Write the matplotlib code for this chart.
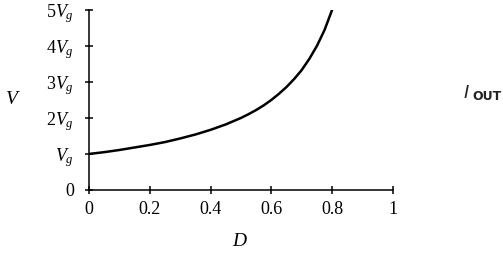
import matplotlib
matplotlib.use("Agg")
import matplotlib.pyplot as plt

plt.rcParams['mathtext.fontset'] = 'custom'
plt.rcParams['mathtext.rm'] = 'Liberation Serif'
plt.rcParams['mathtext.it'] = 'Liberation Serif:italic'
plt.rcParams['font.family'] = ['Liberation Serif', 'DejaVu Serif']

# Curve (V in units of Vg versus duty cycle D)
duty = [0.0, 0.05, 0.1, 0.15, 0.2, 0.25, 0.3, 0.35, 0.4, 0.45, 0.5,
        0.525, 0.55, 0.575, 0.6, 0.625, 0.65, 0.675, 0.7, 0.725, 0.75, 0.775, 0.8]
volts = [1.0, 1.05, 1.11, 1.18, 1.25, 1.33, 1.43, 1.54, 1.67, 1.82, 2.0,
         2.105, 2.22, 2.35, 2.5, 2.67, 2.86, 3.08, 3.33, 3.64, 4.0, 4.44, 5.0]

x_ticks = [0, 0.2, 0.4, 0.6, 0.8, 1]
x_labels = ["0", "0.2", "0.4", "0.6", "0.8", "1"]
y_ticks = [0, 1, 2, 3, 4, 5]
y_labels = ["0", "$V_g$", "$2V_g$", "$3V_g$", "$4V_g$", "$5V_g$"]

fig = plt.figure(figsize=(5.03, 2.62), dpi=100)
ax = fig.add_axes([0.177, 0.275, 0.604, 0.687])
ax.plot(duty, volts, color='black', lw=1.8, solid_capstyle='round')

ax.set_xlim(0, 1)
ax.set_ylim(0, 5)
ax.set_xticks(x_ticks)
ax.set_xticklabels(x_labels)
ax.set_yticks(y_ticks)
ax.set_yticklabels(y_labels)
for s in ['top', 'right']:
    ax.spines[s].set_visible(False)
for s in ['left', 'bottom']:
    ax.spines[s].set_linewidth(1.1)
ax.tick_params(direction='inout', length=6, width=1.1, labelsize=13, pad=5)
ax.tick_params(axis='y', pad=8)

fig.text(13 / 503, 1 - 100 / 262, "$V$", fontsize=14, ha='center', va='center')
fig.text(240 / 503, 1 - 241 / 262, "$D$", fontsize=14, ha='center', va='center')

fig.text(466 / 503, 1 - 93 / 262, "I", fontsize=13, style='italic',
         family='DejaVu Sans', ha='center', va='center', color='#222222')
fig.text(472 / 503, 1 - 97 / 262, "OUT", fontsize=9, weight='bold',
         family='DejaVu Sans', ha='left', va='center', color='#222222')

fig.savefig("out.png", dpi=100)
